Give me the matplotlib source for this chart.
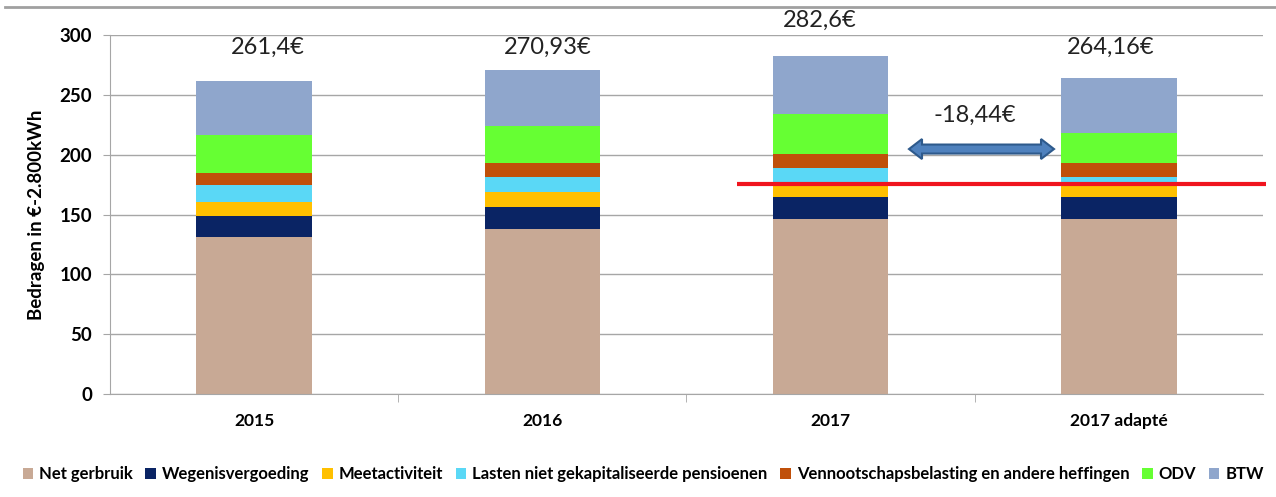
import matplotlib
matplotlib.use("Agg")
import matplotlib.pyplot as plt
import numpy as np
from matplotlib.patches import Polygon
from matplotlib.transforms import ScaledTranslation
from matplotlib.lines import Line2D

plt.rcParams['font.family'] = ['Lato', 'DejaVu Sans']

categories = ["2015", "2016", "2017", "2017 adapté"]
series_names = ["Net gerbruik", "Wegenisvergoeding", "Meetactiviteit",
                "Lasten niet gekapitaliseerde pensioenen",
                "Vennootschapsbelasting en andere heffingen", "ODV", "BTW"]
net = [131.0, 137.8, 145.9, 145.9]
weg = [18.0, 18.7, 18.9, 18.9]
meet = [11.7, 12.0, 11.7, 12.3]
lasten = [14.0, 12.5, 12.0, 4.4]
venn = [10.3, 11.7, 12.0, 11.2]
odv = [31.5, 31.4, 33.2, 25.6]
btw = [44.9, 46.83, 48.9, 45.86]
totals_text = ["261,4€", "270,93€", "282,6€", "264,16€"]
diff_text = "-18,44€"
ref_level = 175.4
colors = ["#C8A995", "#0A2464", "#FFC000", "#5AD8F6", "#C0500A", "#66FF33", "#8FA6CC"]

series = [net, weg, meet, lasten, venn, odv, btw]

fig = plt.figure(figsize=(12.76, 4.97), dpi=100)
ax = fig.add_axes([0.0862, 0.2072, 0.9036, 0.7224])

x = np.arange(len(categories))
bottom = np.zeros(len(categories))
for vals, c, name in zip(series, colors, series_names):
    ax.bar(x, vals, width=0.40, bottom=bottom, color=c, label=name, zorder=2)
    bottom += np.array(vals)

ax.set_xlim(-0.5, 3.5)
ax.set_ylim(0, 300)
ax.set_yticks(np.arange(0, 301, 50))
ax.yaxis.grid(True, color="#A6A6A6", linewidth=1.0, zorder=0)
ax.set_axisbelow(True)
for s in ["top", "right"]:
    ax.spines[s].set_visible(False)
ax.spines["left"].set_color("#A6A6A6")
ax.spines["bottom"].set_color("#A6A6A6")
ax.tick_params(axis="y", length=5, color="#A6A6A6", labelsize=13.5, pad=8)
ax.set_xticks(x)
ax.set_xticklabels(categories, fontsize=12.5, fontweight="bold")
ax.tick_params(axis="x", length=0, pad=14)
ax.set_xticks([0.5, 1.5, 2.5], minor=True)
ax.tick_params(axis="x", which="minor", length=6, color="#A6A6A6")
for lab in ax.get_yticklabels():
    lab.set_fontweight("bold")
ax.set_ylabel("Bedragen in €-2.800kWh", fontsize=13.5, fontweight="bold", labelpad=10)

# total labels
label_pos = [(0.048, 290), (1.02, 290), (1.963, 312.5), (2.97, 290)]
for (lx, ly), t in zip(label_pos, totals_text):
    ax.text(lx, ly, t, ha="center", va="center", fontsize=17, color="#222222", clip_on=False)

# red reference line
ax.plot([1.675, 3.51], [ref_level, ref_level], color="#F0141E", linewidth=3.0,
        zorder=5, clip_on=False, solid_capstyle="butt")

# double-headed arrow
x0, x1, ya = 2.272, 2.775, 204.7
cx = (x0 + x1) / 2
half_len_in = (x1 - x0) * 288.25 / 2 / 100.0
sh, hh, hl = 0.045, 0.10, 0.13
verts = [(-half_len_in, 0), (-half_len_in + hl, hh), (-half_len_in + hl, sh),
         (half_len_in - hl, sh), (half_len_in - hl, hh), (half_len_in, 0),
         (half_len_in - hl, -hh), (half_len_in - hl, -sh), (-half_len_in + hl, -sh),
         (-half_len_in + hl, -hh)]
tr = fig.dpi_scale_trans + ScaledTranslation(cx, ya, ax.transData)
ax.add_patch(Polygon(verts, closed=True, transform=tr, facecolor="#4F81BD",
                     edgecolor="#2E5A8C", linewidth=1.5, zorder=6, clip_on=False))
ax.text(2.50, 233, diff_text, ha="center", va="center", fontsize=17, color="#222222")

# top frame line
fig.add_artist(Line2D([0.004, 1.0], [0.986, 0.986], color="#A0A0A0", linewidth=2.0,
                      transform=fig.transFigure))

handles, labels = ax.get_legend_handles_labels()
leg = fig.legend(handles, labels, loc="center", bbox_to_anchor=(0.504, 0.046), ncol=7,
                 frameon=False, fontsize=12, handlelength=0.65, handleheight=0.65,
                 handletextpad=0.35, columnspacing=0.75, borderaxespad=0, borderpad=0)
for t in leg.get_texts():
    t.set_fontweight("bold")

fig.savefig("out.png", dpi=100)
